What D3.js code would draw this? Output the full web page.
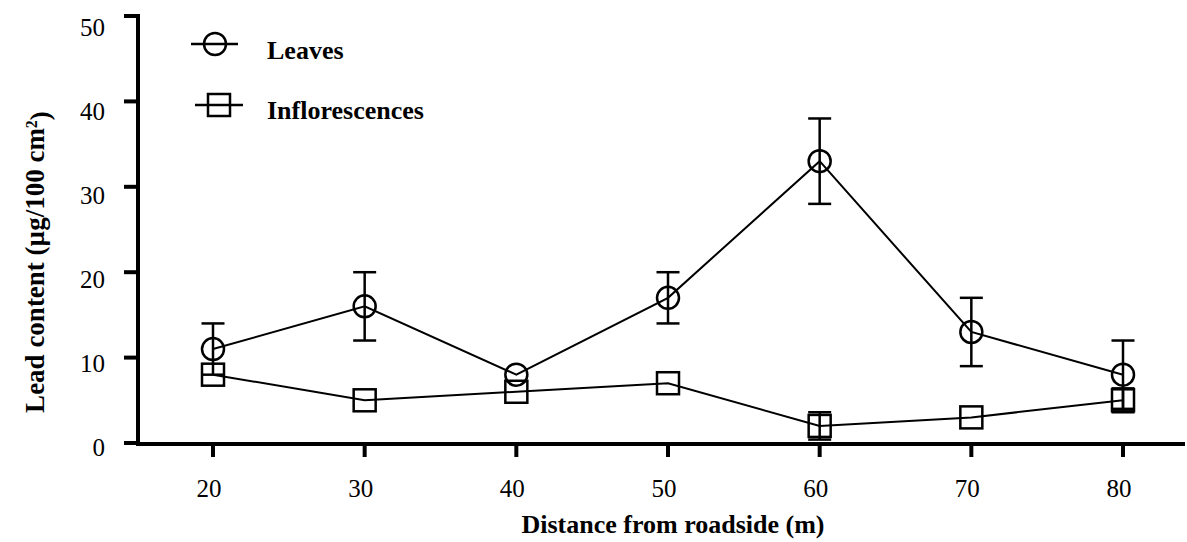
<!DOCTYPE html>
<html>
<head>
<meta charset="utf-8">
<script src="https://d3js.org/d3.v7.min.js"></script>
<style>
  html, body { margin: 0; padding: 0; background: #ffffff; }
  svg { display: block; }
  text { font-family: "Liberation Serif", "Times New Roman", serif; fill: #000; }
</style>
</head>
<body>
<svg id="chart" width="1187" height="542"></svg>
<script>
// ---- data ----
const distances = [20, 30, 40, 50, 60, 70, 80];
const leaves = [11, 16, 8, 17, 33, 13, 8];
const leavesErr = [3, 4, 0, 3, 5, 4, 4];
const inflorescences = [8, 5, 6, 7, 2, 3, 5];
const inflorescencesErr = [0, 0, 0, 0, 1.6, 0, 1.4];
const yTicks = [0, 10, 20, 30, 40, 50];
const xTicks = [20, 30, 40, 50, 60, 70, 80];
const seriesNames = ["Leaves", "Inflorescences"];
const xTitle = "Distance from roadside (m)";

// ---- layout ----
const svg = d3.select("#chart");
const x = d3.scaleLinear().domain([20, 80]).range([213, 1123]);
const y = d3.scaleLinear().domain([0, 50]).range([443, 16]);
const yLab = d3.scaleLinear().domain([0, 50]).range([447, 27]);
const axisX0 = 138, axisY0 = 444;

// axes lines
svg.append("line").attr("x1", axisX0).attr("x2", axisX0).attr("y1", 14).attr("y2", axisY0 + 2)
  .attr("stroke", "#000").attr("stroke-width", 4);
svg.append("line").attr("x1", axisX0 - 2).attr("x2", 1185).attr("y1", axisY0).attr("y2", axisY0)
  .attr("stroke", "#000").attr("stroke-width", 4);

// y ticks
const yg = svg.append("g");
yg.selectAll("line").data(yTicks).join("line")
  .attr("x1", 124).attr("x2", axisX0).attr("y1", d => y(d)).attr("y2", d => y(d))
  .attr("stroke", "#000").attr("stroke-width", 4);
yg.selectAll("text").data(yTicks).join("text")
  .attr("x", 105).attr("y", d => yLab(d)).attr("dy", "0.35em")
  .attr("text-anchor", "end").attr("font-size", 25).text(d => d);

// x ticks
const xg = svg.append("g");
xg.selectAll("line").data(xTicks).join("line")
  .attr("x1", d => x(d)).attr("x2", d => x(d)).attr("y1", axisY0).attr("y2", 457)
  .attr("stroke", "#000").attr("stroke-width", 4);
xg.selectAll("text").data(xTicks).join("text")
  .attr("x", d => x(d) - 4).attr("y", 497)
  .attr("text-anchor", "middle").attr("font-size", 25).text(d => d);

// axis titles
svg.append("text").attr("x", 673).attr("y", 533).attr("text-anchor", "middle")
  .attr("font-size", 26).attr("font-weight", "bold").text(xTitle);

const yt = svg.append("text").attr("transform", "translate(44,262) rotate(-90)")
  .attr("text-anchor", "middle").attr("font-size", 27).attr("font-weight", "bold");
yt.append("tspan").text("Lead content (µg/100 cm");
yt.append("tspan").attr("dy", "-0.45em").attr("font-size", 16).text("2");
yt.append("tspan").attr("dy", "0.45em").text(")");

// ---- series ----
const R = 11, S = 22, CAP = 11.5;
function drawSeries(vals, errs, shape) {
  const pts = distances.map((d, i) => ({ d, v: vals[i], e: errs[i] }));
  const line = d3.line().x(p => x(p.d)).y(p => y(p.v));
  svg.append("path").datum(pts).attr("d", line)
    .attr("fill", "none").attr("stroke", "#000").attr("stroke-width", 2);
  const eg = svg.append("g").attr("stroke", "#000").attr("stroke-width", 2.5);
  pts.filter(p => p.e > 0).forEach(p => {
    eg.append("line").attr("x1", x(p.d)).attr("x2", x(p.d)).attr("y1", y(p.v + p.e)).attr("y2", y(p.v - p.e));
    eg.append("line").attr("x1", x(p.d) - CAP).attr("x2", x(p.d) + CAP).attr("y1", y(p.v + p.e)).attr("y2", y(p.v + p.e));
    eg.append("line").attr("x1", x(p.d) - CAP).attr("x2", x(p.d) + CAP).attr("y1", y(p.v - p.e)).attr("y2", y(p.v - p.e));
  });
  const mg = svg.append("g");
  if (shape === "circle") {
    mg.selectAll("circle").data(pts).join("circle")
      .attr("cx", p => x(p.d)).attr("cy", p => y(p.v)).attr("r", R)
      .attr("fill", "none").attr("stroke", "#000").attr("stroke-width", 2.5);
  } else {
    mg.selectAll("rect").data(pts).join("rect")
      .attr("x", p => x(p.d) - S / 2).attr("y", p => y(p.v) - S / 2).attr("width", S).attr("height", S)
      .attr("fill", "none").attr("stroke", "#000").attr("stroke-width", 2.5);
  }
}
drawSeries(inflorescences, inflorescencesErr, "square");
drawSeries(leaves, leavesErr, "circle");

// ---- legend ----
const lg = svg.append("g");
lg.append("line").attr("x1", 191).attr("x2", 238).attr("y1", 44).attr("y2", 44).attr("stroke", "#000").attr("stroke-width", 2.5);
lg.append("circle").attr("cx", 215).attr("cy", 44).attr("r", R).attr("fill", "none").attr("stroke", "#000").attr("stroke-width", 2.5);
lg.append("line").attr("x1", 195).attr("x2", 243).attr("y1", 105).attr("y2", 105).attr("stroke", "#000").attr("stroke-width", 2.5);
lg.append("rect").attr("x", 219 - S / 2).attr("y", 105 - S / 2).attr("width", S).attr("height", S)
  .attr("fill", "none").attr("stroke", "#000").attr("stroke-width", 2.5);
lg.append("text").attr("x", 267).attr("y", 59).attr("font-size", 26).attr("font-weight", "bold").text(seriesNames[0]);
lg.append("text").attr("x", 267).attr("y", 119).attr("font-size", 26).attr("font-weight", "bold").text(seriesNames[1]);
</script>
</body>
</html>
